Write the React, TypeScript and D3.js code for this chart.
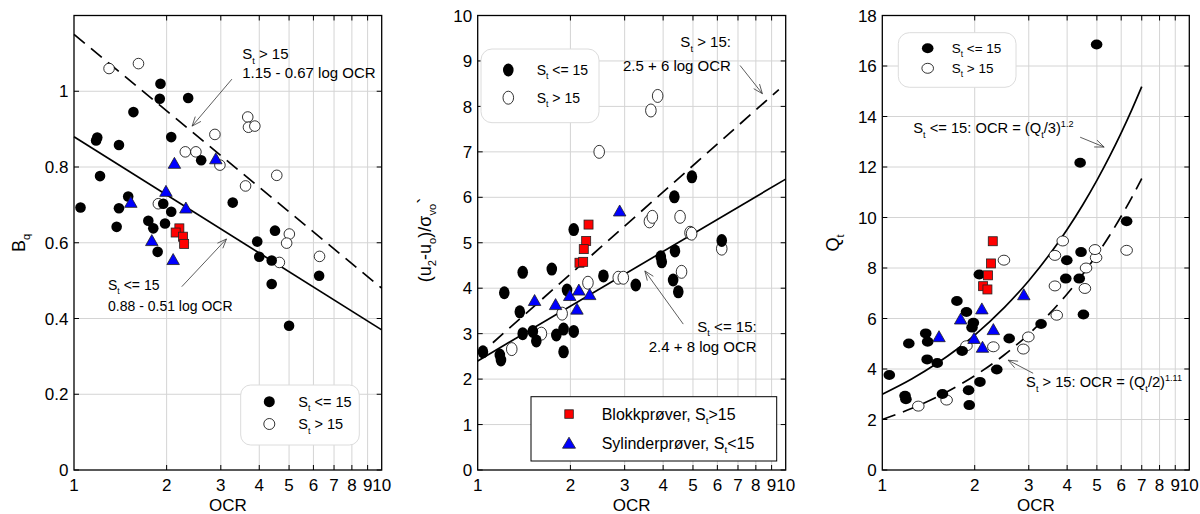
import React from "react";
import * as d3 from "d3";

type Pt = [number, number];

// ---------- axes ----------
const ocrTicks = [1, 2, 3, 4, 5, 6, 7, 8, 9, 10];
const bqTicks = [0, 0.2, 0.4, 0.6, 0.8, 1];
const duTicks = [0, 1, 2, 3, 4, 5, 6, 7, 8, 9, 10];
const qtTicks = [0, 2, 4, 6, 8, 10, 12, 14, 16, 18];

// ---------- panel 1 : Bq ----------
const bqFilled: Pt[] = [
  [1.05, 0.693], [1.18, 0.87], [1.19, 0.878], [1.4, 0.858], [1.215, 0.776], [1.56, 0.945],
  [1.91, 1.02], [1.9, 0.98], [2.35, 0.982], [2.07, 0.879], [2.59, 0.818], [1.5, 0.722],
  [1.4, 0.691], [1.376, 0.642], [1.744, 0.658], [1.81, 0.638], [1.95, 0.703], [1.976, 0.651],
  [2.07, 0.682], [1.87, 0.576], [3.28, 0.706], [3.94, 0.603], [4.0, 0.563], [4.39, 0.553],
  [4.39, 0.491], [6.26, 0.513], [5.0, 0.381], [4.5, 0.632],
];
const bqOpen: Pt[] = [
  [1.3, 1.06], [1.62, 1.073], [2.3, 0.84], [2.49, 0.84], [2.87, 0.886], [2.98, 0.805],
  [1.88, 0.703], [3.67, 0.932], [3.69, 0.905], [3.87, 0.908], [3.61, 0.75], [4.56, 0.778],
  [5.01, 0.623], [4.91, 0.599], [6.28, 0.564], [4.65, 0.548],
];
const bqCyl: Pt[] = [
  [1.53, 0.708], [1.79, 0.607], [1.99, 0.737], [2.12, 0.811], [2.31, 0.693], [2.89, 0.823], [2.1, 0.557],
];
const bqBlock: Pt[] = [[2.2, 0.638], [2.14, 0.627], [2.26, 0.616], [2.28, 0.597]];
const bqFitLow: Pt[] = [[1, 0.88], [10, 0.37]];
const bqFitHigh: Pt[] = [[1, 1.15], [10, 0.48]];

// ---------- panel 2 : (u2-u0)/sigma'vo ----------
const duFilled: Pt[] = [
  [1.04, 2.6], [1.18, 2.53], [1.19, 2.42], [1.22, 3.9], [1.37, 3.48], [1.4, 4.35], [1.4, 3.0],
  [1.51, 3.05], [1.55, 2.84], [1.74, 4.42], [1.8, 2.97], [1.9, 3.1], [1.9, 2.6], [1.95, 3.96],
  [2.05, 3.05], [2.56, 4.27], [3.26, 4.07], [3.93, 4.69], [3.96, 4.58], [4.31, 4.18],
  [4.48, 3.92], [4.37, 4.82], [2.05, 5.29], [4.35, 6.01], [4.96, 6.45], [6.2, 5.05],
];
const duOpen: Pt[] = [
  [2.48, 7.0], [3.65, 7.91], [3.84, 8.23], [3.61, 5.47], [3.69, 5.57], [4.54, 5.57], [4.89, 5.22],
  [4.95, 5.2], [6.2, 4.87], [1.29, 2.66], [1.61, 3.0], [1.88, 3.44], [2.28, 4.12], [2.86, 4.23],
  [2.97, 4.23], [4.59, 4.36],
];
const duCyl: Pt[] = [
  [1.53, 3.74], [1.79, 3.65], [1.99, 3.85], [2.13, 3.97], [2.1, 3.55], [2.31, 3.87], [2.89, 5.71],
];
const duBlock: Pt[] = [[2.29, 5.4], [2.25, 5.04], [2.21, 4.86], [2.14, 4.56], [2.2, 4.58]];
const duFitLow: Pt[] = [[1, 2.4], [10, 6.4]];
const duFitHigh: Pt[] = [[1.12, 2.8], [9.5, 8.37]];

// ---------- panel 3 : Qt ----------
const qtFilled: Pt[] = [
  [1.054, 3.76], [1.186, 2.94], [1.194, 2.8], [1.22, 5.01], [1.385, 5.41], [1.405, 5.08],
  [1.4, 4.38], [1.51, 4.24], [1.57, 3.01], [1.75, 6.69], [1.82, 4.71], [1.88, 6.26], [1.91, 3.16],
  [1.92, 2.57], [1.98, 5.83], [1.96, 5.64], [2.07, 7.74], [2.08, 3.49], [2.36, 3.98], [2.59, 5.21],
  [3.29, 5.78], [3.99, 8.31], [3.96, 7.58], [4.38, 7.58], [4.52, 6.16], [4.44, 8.63],
  [4.99, 16.85], [4.41, 12.17], [6.25, 9.85],
];
const qtOpen: Pt[] = [
  [1.31, 2.53], [1.62, 2.77], [1.88, 4.92], [2.3, 4.88], [2.49, 8.31], [2.88, 4.79], [2.99, 5.27],
  [3.65, 7.29], [3.7, 6.13], [3.65, 8.5], [4.57, 7.19], [4.61, 8.0], [4.97, 8.41], [6.25, 8.7],
  [3.87, 9.07], [4.93, 8.73],
];
const qtCyl: Pt[] = [
  [1.53, 5.3], [1.8, 6.0], [1.99, 5.23], [2.11, 6.4], [2.12, 4.88], [2.3, 5.58], [2.89, 6.96],
];
const qtBlock: Pt[] = [[2.29, 9.06], [2.26, 8.18], [2.21, 7.71], [2.13, 7.28], [2.2, 7.15]];
// fit curves as stated in the chart: OCR = (Qt/3)^1.2 and OCR = (Qt/2)^1.11
const qtCurveOcr = [1, 1.25, 1.5, 1.75, 2, 2.5, 3, 3.5, 4, 4.5, 5, 5.5, 6, 6.5, 7];
const qtFitLow: Pt[] = qtCurveOcr.map((o) => [o, 3 * Math.pow(o, 1 / 1.2)]);
const qtFitHigh: Pt[] = qtCurveOcr.map((o) => [o, 2 * Math.pow(o, 1 / 1.11)]);

// ---------- layout ----------
const FONT = '"Liberation Sans", Arial, Helvetica, sans-serif';
const TOP = 15.5;
const BOTTOM = 470;

type Part = [string, number]; // text, level (-1 sub, 0 normal, 1 sup)

function Rich({ parts, fs }: { parts: Part[]; fs: number }) {
  let prev = 0;
  return (
    <>
      {parts.map(([t, lvl], i) => {
        const off = lvl === -1 ? fs * 0.3 : lvl === 1 ? -fs * 0.45 : 0;
        const dy = off - prev;
        prev = off;
        return (
          <tspan key={i} dy={dy} fontSize={lvl ? fs * 0.62 : fs}>
            {t}
          </tspan>
        );
      })}
    </>
  );
}

function Arrow({ a, b }: { a: [number, number]; b: [number, number] }) {
  const ang = Math.atan2(b[1] - a[1], b[0] - a[0]);
  const L = 10;
  const s = 0.38;
  const p1 = [b[0] - L * Math.cos(ang - s), b[1] - L * Math.sin(ang - s)];
  const p2 = [b[0] - L * Math.cos(ang + s), b[1] - L * Math.sin(ang + s)];
  return (
    <g stroke="#333" strokeWidth={0.8} fill="none">
      <line x1={a[0]} y1={a[1]} x2={b[0]} y2={b[1]} />
      <polyline points={`${p1[0]},${p1[1]} ${b[0]},${b[1]} ${p2[0]},${p2[1]}`} />
    </g>
  );
}

function tri(cx: number, cy: number, w = 12.5, h = 11) {
  return `M${cx},${cy - h / 2}L${cx + w / 2},${cy + h / 2}L${cx - w / 2},${cy + h / 2}Z`;
}

type PanelProps = {
  left: number;
  right: number;
  yMax: number;
  yTicks: number[];
  filled: Pt[];
  open: Pt[];
  cyl: Pt[];
  block: Pt[];
  rx: number;
  ry: number;
  fitLow: Pt[];
  fitHigh: Pt[];
  yLabel: React.ReactNode;
  extra: (x: d3.ScaleLogarithmic<number, number>, y: d3.ScaleLinear<number, number>) => React.ReactNode;
};

function Panel(p: PanelProps) {
  const x = d3.scaleLog().domain([1, 10]).range([p.left, p.right]);
  const y = d3.scaleLinear().domain([0, p.yMax]).range([BOTTOM, TOP]);
  const line = d3
    .line<Pt>()
    .x((d) => x(d[0]))
    .y((d) => y(d[1]))
    .curve(d3.curveMonotoneX);
  const inner = ocrTicks.filter((t) => t > 1 && t < 10);
  const cx = (p.left + p.right) / 2;
  return (
    <g>
      {/* grid */}
      <g stroke="#d4d4d4" strokeWidth={1}>
        {inner.map((t) => (
          <line key={"gx" + t} x1={x(t)} x2={x(t)} y1={TOP} y2={BOTTOM} />
        ))}
        {p.yTicks
          .filter((t) => t > 0)
          .map((t) => (
            <line key={"gy" + t} x1={p.left} x2={p.right} y1={y(t)} y2={y(t)} />
          ))}
      </g>
      {/* fits */}
      <path d={line(p.fitLow) || ""} fill="none" stroke="#000" strokeWidth={1.7} />
      <path d={line(p.fitHigh) || ""} fill="none" stroke="#000" strokeWidth={1.7} strokeDasharray="14 8" />
      {/* markers */}
      {p.open.map((d, i) => (
        <ellipse key={"o" + i} cx={x(d[0])} cy={y(d[1])} rx={p.rx} ry={p.ry} fill="#fff" stroke="#000" strokeWidth={0.8} />
      ))}
      {p.filled.map((d, i) => (
        <ellipse key={"f" + i} cx={x(d[0])} cy={y(d[1])} rx={p.rx} ry={p.ry} fill="#000" />
      ))}
      {p.cyl.map((d, i) => (
        <path key={"c" + i} d={tri(x(d[0]), y(d[1]))} fill="#0000ff" stroke="#222" strokeWidth={0.8} />
      ))}
      {p.block.map((d, i) => (
        <rect key={"b" + i} x={x(d[0]) - 4.5} y={y(d[1]) - 4.5} width={9} height={9} fill="#ff0000" stroke="#222" strokeWidth={0.8} />
      ))}
      {/* ticks */}
      <g stroke="#000" strokeWidth={1}>
        {inner.map((t) => (
          <g key={"tx" + t}>
            <line x1={x(t)} x2={x(t)} y1={BOTTOM} y2={BOTTOM - 5} />
            <line x1={x(t)} x2={x(t)} y1={TOP} y2={TOP + 5} />
          </g>
        ))}
        {p.yTicks.map((t) => (
          <g key={"ty" + t}>
            <line x1={p.left} x2={p.left + 5} y1={y(t)} y2={y(t)} />
            <line x1={p.right} x2={p.right - 5} y1={y(t)} y2={y(t)} />
          </g>
        ))}
      </g>
      <rect x={p.left} y={TOP} width={p.right - p.left} height={BOTTOM - TOP} fill="none" stroke="#000" strokeWidth={1.3} />
      {/* tick labels */}
      <g fontSize={17} fill="#000">
        {ocrTicks.map((t) => (
          <text key={"lx" + t} x={x(t)} y={490.5} textAnchor="middle">
            {t}
          </text>
        ))}
        {p.yTicks.map((t) => (
          <text key={"ly" + t} x={p.left - 5.5} y={y(t)} dy="0.36em" textAnchor="end">
            {t}
          </text>
        ))}
      </g>
      <text x={cx} y={510.5} textAnchor="middle" fontSize={17}>
        OCR
      </text>
      {p.yLabel}
      {p.extra(x, y)}
    </g>
  );
}

const stLE: Part[] = [["S", 0], ["t", -1], [" <= 15", 0]];
const stGT: Part[] = [["S", 0], ["t", -1], [" > 15", 0]];

export default function App() {
  return (
    <svg
      width={1200}
      height={514}
      style={{ position: "absolute", left: 0, top: 0, background: "#fff" }}
      fontFamily={FONT}
    >
      <rect width={1200} height={514} fill="#fff" />
      {/* ---------- Panel 1 ---------- */}
      <Panel
        left={74}
        right={381.7}
        yMax={1.2}
        yTicks={bqTicks}
        filled={bqFilled}
        open={bqOpen}
        cyl={bqCyl}
        block={bqBlock}
        rx={5.3}
        ry={5.3}
        fitLow={bqFitLow}
        fitHigh={bqFitHigh}
        yLabel={
          <text transform="translate(25,243) rotate(-90)" textAnchor="middle" style={{ whiteSpace: "pre" }}>
            <Rich parts={[["B", 0], ["q", -1]]} fs={18} />
          </text>
        }
        extra={(x, y) => (
          <g style={{ whiteSpace: "pre" }}>
            <text x={x(3.52)} y={y(1.084)}>
              <Rich parts={stGT} fs={15} />
            </text>
            <text x={x(3.52)} y={y(1.034)} fontSize={15}>
              1.15 - 0.67 log OCR
            </text>
            <Arrow a={[x(3.26), y(1.032)]} b={[x(2.42), y(0.908)]} />
            <text x={x(1.29)} y={y(0.476)}>
              <Rich parts={stLE} fs={14} />
            </text>
            <text x={x(1.29)} y={y(0.421)} fontSize={14}>
              0.88 - 0.51 log OCR
            </text>
            <Arrow a={[x(2.24), y(0.484)]} b={[x(3.13), y(0.61)]} />
            {/* legend */}
            <rect x={240.7} y={385} width={118.6} height={60} rx={10} fill="#fff" stroke="#dcdcdc" />
            <circle cx={269.3} cy={401.7} r={5.5} fill="#000" />
            <circle cx={269.3} cy={424} r={5.5} fill="#fff" stroke="#000" strokeWidth={0.8} />
            <text x={298.3} y={407}>
              <Rich parts={stLE} fs={14.5} />
            </text>
            <text x={298.3} y={429.3}>
              <Rich parts={stGT} fs={14.5} />
            </text>
          </g>
        )}
      />
      {/* ---------- Panel 2 ---------- */}
      <Panel
        left={477.7}
        right={785.7}
        yMax={10}
        yTicks={duTicks}
        filled={duFilled}
        open={duOpen}
        cyl={duCyl}
        block={duBlock}
        rx={5.3}
        ry={6.5}
        fitLow={duFitLow}
        fitHigh={duFitHigh}
        yLabel={
          <text transform="translate(431,240) rotate(-90)" textAnchor="middle" style={{ whiteSpace: "pre" }}>
            <Rich
              parts={[["(u", 0], ["2", -1], ["-u", 0], ["o", -1], [")/σ", 0], ["vo", -1], ["`", 0]]}
              fs={18}
            />
          </text>
        }
        extra={(x, y) => (
          <g style={{ whiteSpace: "pre" }}>
            <text x={x(6.64)} y={y(9.3)} textAnchor="end">
              <Rich parts={[["S", 0], ["t", -1], [" > 15:", 0]]} fs={15} />
            </text>
            <text x={x(6.64)} y={y(8.77)} textAnchor="end" fontSize={15}>
              2.5 + 6 log OCR
            </text>
            <Arrow a={[x(7.11), y(8.9)]} b={[x(8.4), y(8.28)]} />
            <text x={x(8.05)} y={y(3.04)} textAnchor="end">
              <Rich parts={[["S", 0], ["t", -1], [" <= 15:", 0]]} fs={15} />
            </text>
            <text x={x(8.05)} y={y(2.6)} textAnchor="end" fontSize={15}>
              2.4 + 8 log OCR
            </text>
            <Arrow a={[x(4.65), y(3.21)]} b={[x(3.49), y(4.38)]} />
            {/* upper legend */}
            <rect x={481} y={49} width={118} height={73.7} rx={11} fill="#fff" stroke="#dcdcdc" />
            <ellipse cx={508.3} cy={70} rx={5.3} ry={6.5} fill="#000" />
            <ellipse cx={508.3} cy={97.7} rx={5.3} ry={6.5} fill="#fff" stroke="#000" strokeWidth={0.8} />
            <text x={536.7} y={75}>
              <Rich parts={stLE} fs={14} />
            </text>
            <text x={536.7} y={102.5}>
              <Rich parts={stGT} fs={14} />
            </text>
            {/* lower legend */}
            <rect x={531} y={396.7} width={245.7} height={64.3} fill="#fff" stroke="#000" strokeWidth={1} />
            <rect x={564.8} y={409.8} width={8.5} height={8.5} fill="#ff0000" stroke="#222" strokeWidth={0.8} />
            <path d={tri(569, 442.7, 13, 11)} fill="#0000ff" stroke="#222" strokeWidth={0.8} />
            <text x={601.7} y={419.5}>
              <Rich parts={[["Blokkprøver, S", 0], ["t", -1], [">15", 0]]} fs={16} />
            </text>
            <text x={601.7} y={448.5}>
              <Rich parts={[["Sylinderprøver, S", 0], ["t", -1], ["<15", 0]]} fs={16} />
            </text>
          </g>
        )}
      />
      {/* ---------- Panel 3 ---------- */}
      <Panel
        left={882.3}
        right={1189.3}
        yMax={18}
        yTicks={qtTicks}
        filled={qtFilled}
        open={qtOpen}
        cyl={qtCyl}
        block={qtBlock}
        rx={5.8}
        ry={5}
        fitLow={qtFitLow}
        fitHigh={qtFitHigh}
        yLabel={
          <text transform="translate(839,243) rotate(-90)" textAnchor="middle" style={{ whiteSpace: "pre" }}>
            <Rich parts={[["Q", 0], ["t", -1]]} fs={18} />
          </text>
        }
        extra={(x, y) => (
          <g style={{ whiteSpace: "pre" }}>
            <text x={x(1.262)} y={y(13.33)}>
              <Rich
                parts={[["S", 0], ["t", -1], [" <= 15: OCR = (Q", 0], ["t", -1], ["/3)", 0], ["1.2", 1]]}
                fs={14.7}
              />
            </text>
            <Arrow a={[x(4.41), y(13.18)]} b={[x(5.28), y(12.79)]} />
            <text x={x(2.94)} y={y(3.27)}>
              <Rich
                parts={[["S", 0], ["t", -1], [" > 15: OCR = (Q", 0], ["t", -1], ["/2)", 0], ["1.11", 1]]}
                fs={14.7}
              />
            </text>
            <Arrow a={[x(3.1), y(3.83)]} b={[x(2.57), y(4.35)]} />
            {/* legend */}
            <rect x={898.3} y={32.7} width={117.7} height={54.6} rx={11} fill="#fff" stroke="#dcdcdc" />
            <ellipse cx={927.7} cy={48.3} rx={5.8} ry={5} fill="#000" />
            <ellipse cx={927.7} cy={68.3} rx={5.8} ry={5} fill="#fff" stroke="#000" strokeWidth={0.8} />
            <text x={951.7} y={53}>
              <Rich parts={stLE} fs={13.5} />
            </text>
            <text x={951.7} y={73}>
              <Rich parts={stGT} fs={13.5} />
            </text>
          </g>
        )}
      />
    </svg>
  );
}
